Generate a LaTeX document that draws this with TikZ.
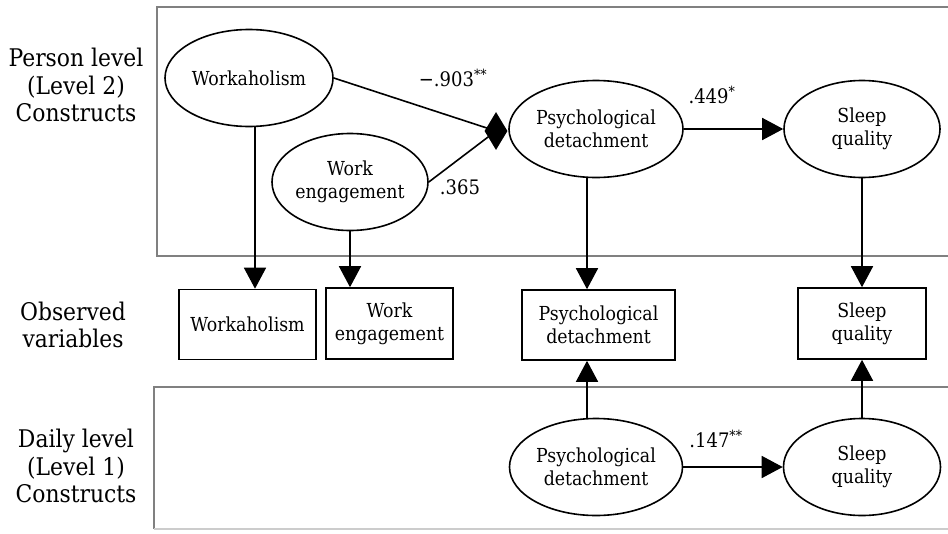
\documentclass[tikz,border=0pt]{standalone}
\usepackage{fontspec}
\setmainfont{DejaVu Serif Condensed}
\usepackage{tikz}
\usetikzlibrary{arrows.meta}
\usetikzlibrary{shapes.geometric}
\tikzset{
  latent/.style={draw, ellipse, line width=1.6pt, inner sep=0pt, minimum height=97pt, align=center, font=\fontsize{19.3}{23}\selectfont},
  obs/.style={draw, rectangle, line width=1.6pt, inner sep=0pt, minimum height=70pt, align=center, font=\fontsize{19.3}{23}\selectfont},
  lvl/.style={align=center, font=\fontsize{24.3}{27.5}\selectfont},
  coef/.style={inner sep=0pt, font=\fontsize{20}{24}\selectfont},
  link/.style={line width=1.6pt, -{Triangle[length=21pt,width=22pt]}},
  frame/.style={line width=1.6pt, black!50}
}
\newcommand{\stars}[1]{\textsuperscript{#1}}

\begin{document}
\begin{tikzpicture}[x=1pt, y=-1pt]
        \useasboundingbox (0,0) rectangle (948,533);
        % level frames
        \draw[frame] (960,7) -| (157,256) -- (960,256);
        \draw[frame] (960,387) -| (154,529);
        \draw[black!20, line width=1.2pt] (154,529) -- (960,529);
        % row labels
        \node[lvl] (person) at (76,85) {Person level\\(Level 2)\\Constructs};
        \node[lvl] (observed) at (73,325) {Observed\\variables};
        \node[lvl] (daily) at (76,466) {Daily level\\(Level 1)\\Constructs};
        % person level
        \node[latent, minimum width=168pt] (wk) at (249,78) {Workaholism};
        \node[latent, minimum width=156pt] (we) at (350,182) {Work\\engagement};
        \node[latent, minimum width=174pt] (pd) at (596,129) {Psychological\\detachment};
        \node[latent, minimum width=156pt] (sq) at (862,129) {Sleep\\quality};
        % observed variables
        \node[obs, minimum width=137pt] (wkobs) at (247.5,324.5) {Workaholism};
        \node[obs, minimum width=127pt, minimum height=71pt] (weobs) at (389.5,323.5) {Work\\engagement};
        \node[obs, minimum width=153pt] (pdobs) at (598.5,325) {Psychological\\detachment};
        \node[obs, minimum width=128pt, minimum height=71pt] (sqobs) at (862,323.5) {Sleep\\quality};
        % daily level
        \node[latent, minimum width=173pt] (pdday) at (596,467) {Psychological\\detachment};
        \node[latent, minimum width=157pt] (sqday) at (862,467) {Sleep\\quality};
        % paths
        \draw[line width=1.6pt] (wk.east) -- (496,131) coordinate (joint);
        \draw[line width=1.6pt] (we.east) -- (joint);
        \node[diamond, fill, inner sep=0pt, minimum width=23pt, minimum height=38pt] (tip) at (joint) {};
        \draw[link] (pd) -- (sq);
        \draw[link] (pdday) -- (sqday);
        \draw[link] ([xshift=6pt]wk.south) -- ([xshift=6pt]wk.south |- wkobs.north);
        \draw[link] (we.south) -- (we.south |- weobs.north);
        \draw[link] ([xshift=-9pt]pd.south) -- ([xshift=-9pt]pd.south |- pdobs.north);
        \draw[link] (sq) -- (sqobs);
        \draw[link] ([xshift=-9pt]pdday.north) -- ([xshift=-9pt]pdday.north |- pdobs.south);
        \draw[link] (sqday) -- (sqobs);
        % coefficients
        \node[coef] (b1) at (453,78) {−.903\stars{**}};
        \node[coef] (b2) at (460,187) {.365};
        \node[coef] (b3) at (712,95) {.449\stars{*}};
        \node[coef] (b4) at (716,439) {.147\stars{**}};
\end{tikzpicture}
\end{document}
